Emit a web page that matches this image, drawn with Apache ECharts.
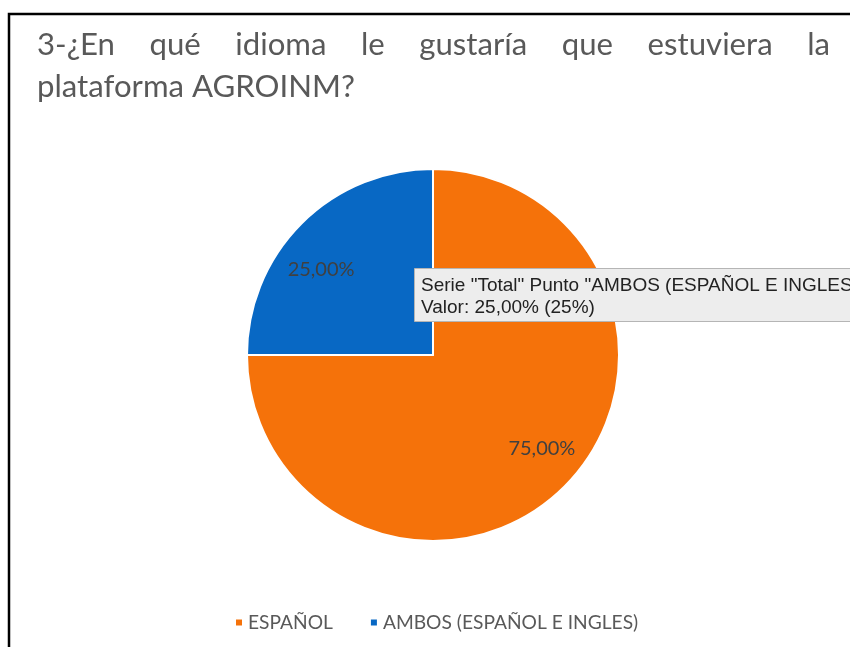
<!DOCTYPE html>
<html>
<head>
<meta charset="utf-8">
<script src="https://cdn.jsdelivr.net/npm/echarts@6/dist/echarts.min.js"></script>
<style>html,body{margin:0;padding:0;background:#fff;}#c{width:850px;height:647px;}</style>
</head>
<body>
<div id="c"></div>
<script>
const categories = ['ESPAÑOL', 'AMBOS (ESPAÑOL E INGLES)'];
const values = [75, 25];
const labels = ['75,00%', '25,00%'];
const colors = ['#F5720A', '#0868C4'];
const titleLine1 = ['3-¿En', 'qué', 'idioma', 'le', 'gustaría', 'que', 'estuviera', 'la'];
const titleLine2 = 'plataforma AGROINM?';
const tipLine1 = 'Serie "Total" Punto "AMBOS (ESPAÑOL E INGLES)"';
const tipLine2 = 'Valor: 25,00% (25%)';

const FAM = 'Lato, "Open Sans", sans-serif';
const cv = document.createElement('canvas').getContext('2d');
function fit(text, target, fam) {
  cv.font = '20px ' + fam;
  return 20 * target / cv.measureText(text).width;
}
const titleSize = fit(titleLine2, 318, FAM);
const legendSize = fit('ESPAÑOL', 85, FAM);
const labelSize = fit('25,00%', 67, FAM);
const titleFont = titleSize.toFixed(2) + 'px ' + FAM;
cv.font = titleFont;
const x0 = 37, x1 = 830;
const widths = titleLine1.map(w => cv.measureText(w).width);
const total = widths.reduce((a, b) => a + b, 0);
const gap = (x1 - x0 - total) / (titleLine1.length - 1);
const titleEls = [];
let cx = x0;
titleLine1.forEach((w, i) => {
  titleEls.push({type: 'text', x: cx, y: 29, style: {text: w, font: titleFont, fill: '#595959'}});
  cx += widths[i] + gap;
});
titleEls.push({type: 'text', x: x0, y: 71, style: {text: titleLine2, font: titleFont, fill: '#595959'}});

const chart = echarts.init(document.getElementById('c'), null, {renderer: 'canvas'});
chart.setOption({
  backgroundColor: '#fff',
  animation: false,
  color: colors,
  legend: {
    bottom: 10, left: 229, itemWidth: 8, itemHeight: 8, itemGap: 36, icon: 'rect',
    textStyle: {fontSize: legendSize, color: '#595959', fontFamily: FAM},
    data: categories
  },
  series: [{
    type: 'pie', center: [433, 355], radius: [0, 186], startAngle: 90, clockwise: true,
    silent: true,
    itemStyle: {borderColor: '#fff', borderWidth: 2},
    label: {position: 'inside', fontSize: labelSize, color: '#404040', fontFamily: FAM},
    labelLine: {show: false},
    data: categories.map((c, i) => ({
      name: c, value: values[i],
      label: {formatter: labels[i], offset: i === 0 ? [41, 26] : [-44, -18]}
    }))
  }],
  graphic: [
    {type: 'rect', shape: {x: 9, y: 14, width: 900, height: 700}, style: {fill: 'none', stroke: '#000', lineWidth: 2.5}, z: 100},
    ...titleEls,
    {type: 'rect', shape: {x: 414.5, y: 268.5, width: 460, height: 53}, style: {fill: '#ededed', stroke: '#b5b5b5', lineWidth: 1}, z: 50},
    {type: 'text', left: 421, top: 276, z: 51, style: {text: tipLine1, font: '19px "Liberation Sans", Arial, sans-serif', fill: '#222'}},
    {type: 'text', left: 421, top: 298, z: 51, style: {text: tipLine2, font: '19px "Liberation Sans", Arial, sans-serif', fill: '#222'}}
  ]
});
</script>
</body>
</html>
